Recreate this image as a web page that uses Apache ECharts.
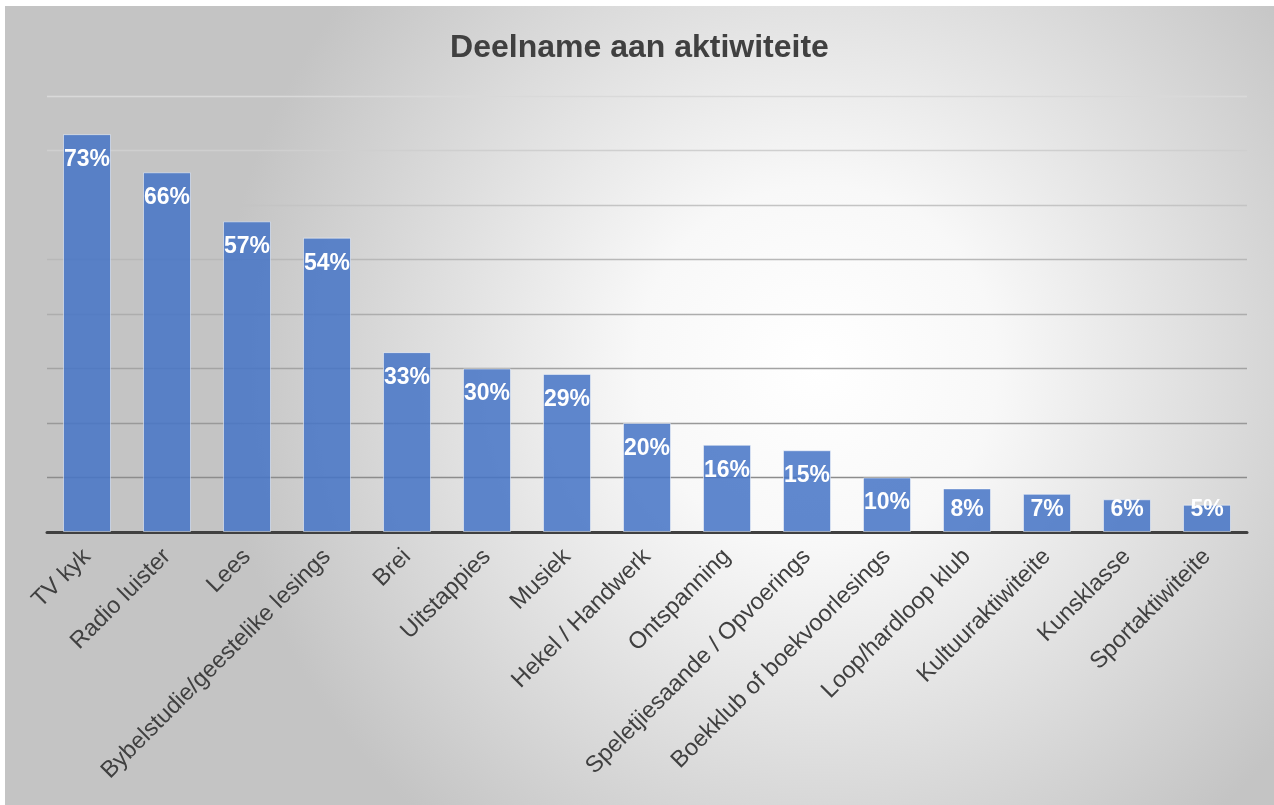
<!DOCTYPE html>
<html>
<head>
<meta charset="utf-8">
<script src="https://cdn.jsdelivr.net/npm/echarts@6/dist/echarts.min.js"></script>
<style>
html,body{margin:0;padding:0;background:#fff;}
#chart{position:absolute;left:5px;top:6px;width:1269px;height:799px;}
</style>
</head>
<body>
<div id="chart"></div>
<script>
const categories = ["TV kyk","Radio luister","Lees","Bybelstudie/geestelike lesings","Brei","Uitstappies","Musiek","Hekel / Handwerk","Ontspanning","Speletjiesaande / Opvoerings","Boekklub of boekvoorlesings","Loop/hardloop klub","Kultuuraktiwiteite","Kunsklasse","Sportaktiwiteite"];
const values = [73,66,57,54,33,30,29,20,16,15,10,8,7,6,5];
const titleText = "Deelname aan aktiwiteite";

const chart = echarts.init(document.getElementById('chart'));
const font = '"Liberation Sans", Arial, sans-serif';
chart.setOption({
  backgroundColor: {
    type: 'radial', x: 0.64, y: 0.45, r: 0.75,
    colorStops: [
      {offset: 0, color: '#ffffff'},
      {offset: 0.3, color: '#f8f8f8'},
      {offset: 1, color: '#c4c4c4'}
    ]
  },
  title: {
    text: titleText, left: 'center', top: 21,
    textStyle: {fontFamily: font, fontSize: 32, fontWeight: 'bold', color: '#404040'}
  },
  grid: {left: 42, right: 27, top: 90, bottom: 273},
  xAxis: {
    type: 'category', data: categories,
    axisLine: {lineStyle: {color: '#404040', width: 3}},
    axisTick: {show: false},
    axisLabel: {rotate: 45, interval: 0, margin: 21, fontFamily: font, fontSize: 23.5, color: '#404040'}
  },
  yAxis: {
    type: 'value', min: 0, max: 80, interval: 10,
    axisLabel: {show: false}, axisLine: {show: false}, axisTick: {show: false},
    splitLine: {lineStyle: {width: 1.3, color: ['#555555','#8c8c8c','#999999','#a3a3a3','#adadad','#b8b8b8','#c4c4c4','#cfcfcf','#d9d9d9']}}
  },
  series: [{
    type: 'bar',
    data: values.map(v => ({
      value: v,
      label: v >= 10 ? {position: 'insideTop', distance: 14} : {position: 'insideBottom', distance: 11}
    })),
    barCategoryGap: '40%',
    itemStyle: {color: 'rgba(70,117,198,0.86)', borderColor: 'rgba(255,255,255,0.5)', borderWidth: 1},
    label: {
      show: true, formatter: '{c}%', color: '#ffffff',
      fontFamily: font, fontSize: 23, fontWeight: 'bold'
    }
  }]
});
</script>
</body>
</html>
